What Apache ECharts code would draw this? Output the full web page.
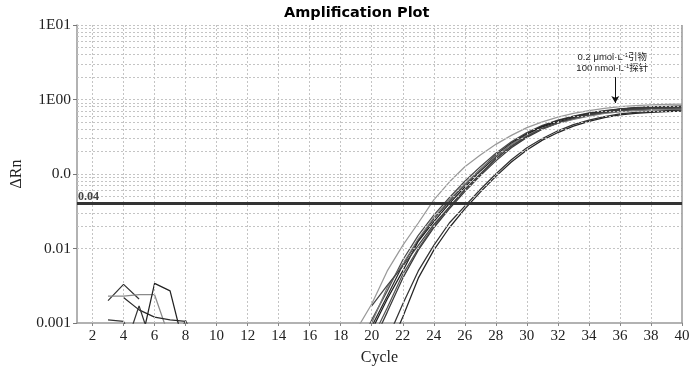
<!DOCTYPE html>
<html><head><meta charset="utf-8">
<script src="https://cdn.jsdelivr.net/npm/echarts@6/dist/echarts.min.js"></script>
<style>html,body{margin:0;padding:0;background:#fff}#c{width:700px;height:374px}</style>
</head><body><div id="c"></div>
<script>
const titleText = 'Amplification Plot';
const xName = 'Cycle';
const yName = 'ΔRn';
const xTickCycles = [2,4,6,8,10,12,14,16,18,20,22,24,26,28,30,32,34,36,38,40];
const yTickValues = [0.001,0.01,0.1,1,10];
const yTickLabels = ['0.001','0.01','0.0','1E00','1E01'];
const yMinorValues = [0.002,0.003,0.004,0.005,0.006,0.007,0.008,0.009,
  0.02,0.03,0.04,0.05,0.06,0.07,0.08,0.09,
  0.2,0.3,0.4,0.5,0.6,0.7,0.8,0.9,
  2,3,4,5,6,7,8,9];
const thresholdValue = 0.04;
const thresholdLabel = '0.04';
const noteLines = ['0.2 μmol·L{s|-1}引物', '100 nmol·L{s|-1}探针'];
const noteArrow = [[35.7, 2.0],[35.7, 0.9]];

const ampCycles = [18,19,20,21,22,23,24,25,26,27,28,29,30,31,32,33,34,35,36,37,38,39,40];
const curveL = [0.0003,0.0008,0.0018,0.005,0.011,0.022,0.045,0.078,0.125,0.18,0.25,0.33,0.42,0.50,0.58,0.65,0.71,0.76,0.80,0.83,0.85,0.86,0.87];
const curveA = [null,0.0004,0.0011,0.0027,0.0070,0.015,0.028,0.048,0.080,0.125,0.19,0.27,0.36,0.45,0.53,0.60,0.66,0.71,0.75,0.78,0.80,0.81,0.82];
const curveB = [null,0.0003,0.0009,0.0023,0.0060,0.013,0.025,0.043,0.072,0.115,0.18,0.26,0.35,0.44,0.52,0.59,0.65,0.70,0.74,0.77,0.78,0.79,0.80];
const curveC = [null,0.0002,0.0008,0.0021,0.0050,0.0125,0.023,0.040,0.067,0.11,0.17,0.25,0.34,0.43,0.50,0.57,0.63,0.68,0.72,0.75,0.76,0.77,0.78];
const curveD = [null,0.0002,0.0006,0.0016,0.0045,0.010,0.020,0.036,0.062,0.10,0.16,0.235,0.32,0.41,0.48,0.55,0.61,0.66,0.70,0.73,0.745,0.755,0.76];
const curveE = [null,0.0002,0.0005,0.0014,0.0040,0.0095,0.019,0.034,0.058,0.095,0.15,0.225,0.31,0.40,0.48,0.56,0.63,0.69,0.74,0.77,0.79,0.80,0.80];
const curveF = [null,0.0003,0.0010,0.0030,0.0062,0.0135,0.026,0.045,0.074,0.115,0.175,0.25,0.33,0.41,0.48,0.54,0.60,0.65,0.68,0.71,0.72,0.73,0.74];
const curveG = [null,null,0.0002,0.0006,0.0018,0.0050,0.011,0.022,0.037,0.062,0.10,0.155,0.225,0.30,0.38,0.46,0.53,0.59,0.64,0.67,0.69,0.71,0.72];
const curveH = [null,null,0.0001,0.0004,0.0012,0.0040,0.0095,0.019,0.034,0.057,0.093,0.145,0.21,0.285,0.36,0.44,0.51,0.57,0.62,0.65,0.67,0.69,0.70];
const curveI = [null,null,0.0017,0.0032,0.0058,0.011,0.021,0.036,0.061,0.10,0.16,0.235,0.32,0.41,0.49,0.56,0.62,0.67,0.71,0.74,0.76,0.77,0.78];

const noiseCycles = [2,3,4,5,6,7,8,9];
const noise1 = [null,0.0020,0.0033,0.0021,null,null,null,null];
const noise2 = [null,0.0023,0.0023,0.0024,0.0024,0.0006,null,null];
const noise3 = [null,null,0.0022,0.0015,0.0012,0.0011,0.00105,null];
const noise4 = [null,null,0.0004,0.0017,0.0004,null,null,null];
const noise5 = [null,null,null,0.0004,0.0034,0.0027,0.0004,null];
const noise6 = [null,0.0011,0.00105,0.0004,null,null,null,null];
const noise7 = [null,null,null,null,null,0.0004,0.00108,0.0004];

const curves = [
  {d: curveL, c: '#9a9a9a'}, {d: curveA, c: '#4a4a4a'}, {d: curveB, c: '#2a2a2a'},
  {d: curveC, c: '#1e1e1e'}, {d: curveD, c: '#555555'}, {d: curveE, c: '#3a3a3a'},
  {d: curveF, c: '#7a7a7a'}, {d: curveG, c: '#333333'}, {d: curveH, c: '#262626'},
  {d: curveI, c: '#444444'}
];
const noises = [
  {d: noise1, c: '#333333'}, {d: noise2, c: '#8a8a8a'}, {d: noise3, c: '#2a2a2a'},
  {d: noise4, c: '#333333'}, {d: noise5, c: '#222222'}, {d: noise6, c: '#333333'},
  {d: noise7, c: '#444444'}
];

const serif = '"Liberation Serif", "Times New Roman", serif';
const gridDot = {color: '#c4c4c4', width: 1, type: [2, 2]};

function pairs(xs, ys) { return xs.map((x, i) => [x, ys[i]]); }

const series = [];
series.push({
  type: 'line', data: [], silent: true, z: 1,
  markLine: {
    silent: true, symbol: 'none', animation: false, label: {show: false},
    lineStyle: gridDot,
    data: yMinorValues.map(v => ({yAxis: v})).concat(yTickValues.map(v => ({yAxis: v}))).concat(xTickCycles.slice(0, -1).map(v => ({xAxis: v})))
  }
});
series.push({
  type: 'line', data: [], silent: true, z: 2,
  markLine: {
    silent: true, symbol: 'none', animation: false, label: {show: false},
    lineStyle: {color: '#999', width: 1.5, type: 'solid'},
    data: [{xAxis: 40}]
  }
});
curves.concat(noises).forEach((s, i) => {
  const xs = i < curves.length ? ampCycles : noiseCycles;
  series.push({
    type: 'line', data: pairs(xs, s.d), showSymbol: false, symbol: 'none',
    lineStyle: {color: s.c, width: 1.25}, clip: true, animation: false, z: 3
  });
});
series.push({
  type: 'line', data: [], silent: true, z: 5,
  markLine: {
    silent: true, animation: false, symbol: 'none',
    lineStyle: {color: '#333', width: 2.8, type: 'solid'},
    label: {show: true, position: 'insideStartTop', formatter: thresholdLabel, color: '#444',
      fontFamily: serif, fontWeight: 'bold', fontSize: 12, distance: [1, 1]},
    data: [{yAxis: thresholdValue}]
  }
});
series.push({
  type: 'line', data: [], silent: true, z: 6,
  markLine: {
    silent: true, animation: false, symbol: ['none', 'arrow'], symbolSize: [6, 7],
    lineStyle: {color: '#111', width: 1, type: 'solid'}, label: {show: false},
    data: [[{coord: noteArrow[0]}, {coord: noteArrow[1]}]]
  }
});

const chart = echarts.init(document.getElementById('c'), null, {renderer: 'canvas'});
chart.setOption({
  animation: false,
  backgroundColor: '#fff',
  title: {text: titleText, left: 279, top: 1,
    textStyle: {fontFamily: '"DejaVu Sans", Verdana, sans-serif', fontWeight: 'bold', fontSize: 14.5, color: '#000'}},
  grid: {left: 77, right: 18, top: 25, bottom: 51, containLabel: false},
  xAxis: {
    type: 'value', min: 1, max: 40,
    name: xName, nameLocation: 'middle', nameGap: 27,
    nameTextStyle: {fontFamily: serif, fontSize: 16, color: '#222'},
    axisLine: {show: true, lineStyle: {color: '#999', width: 1.5}},
    axisTick: {show: true, length: 3, customValues: xTickCycles, lineStyle: {color: '#888'}},
    axisLabel: {customValues: xTickCycles, fontFamily: serif, fontSize: 15, color: '#222', margin: 6},
    splitLine: {show: false}
  },
  yAxis: {
    type: 'log', logBase: 10, min: 0.001, max: 10,
    name: yName, nameLocation: 'middle', nameGap: 48,
    nameTextStyle: {fontFamily: serif, fontSize: 16, color: '#222'},
    axisLine: {show: true, lineStyle: {color: '#999', width: 1.5}},
    axisTick: {show: true, length: 4, lineStyle: {color: '#777'}},
    axisLabel: {fontFamily: serif, fontSize: 15.5, color: '#222', margin: 6,
      formatter: v => { const k = Math.round(Math.log10(v)) + 3; return yTickLabels[k] || ''; }},
    splitLine: {show: false}
  },
  series: series
});

const p = chart.convertToPixel({gridIndex: 0}, noteArrow[0]);
const noteFont = '"Liberation Sans", Arial, "Noto Sans CJK SC", sans-serif';
chart.setOption({
  graphic: [{
    type: 'text', x: p[0] - 3, y: p[1] - 3, silent: true,
    style: {text: noteLines.join('\n'), fill: '#222',
      fontFamily: noteFont, fontSize: 9.5,
      align: 'center', verticalAlign: 'bottom', lineHeight: 11,
      rich: {s: {fontFamily: noteFont, fontSize: 6, verticalAlign: 'top', lineHeight: 11, fill: '#222'}}}
  }]
});
</script></body></html>
